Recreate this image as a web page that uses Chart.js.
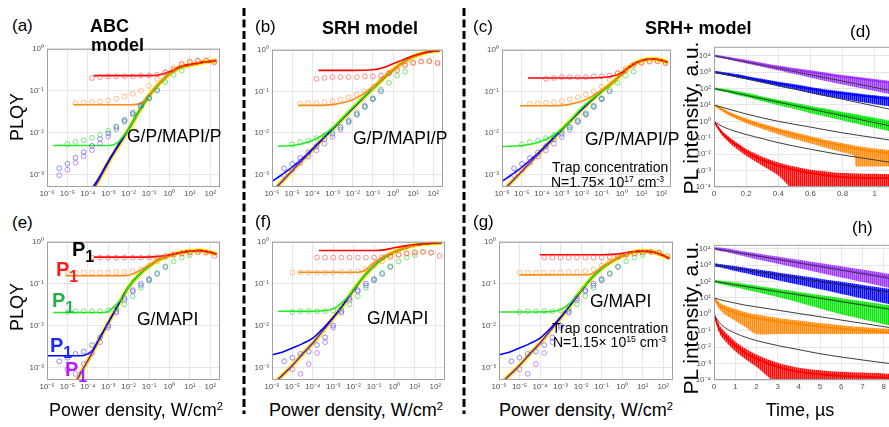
<!DOCTYPE html>
<html>
<head>
<meta charset="utf-8">
<script src="https://cdn.jsdelivr.net/npm/chart.js@4.4.1/dist/chart.umd.min.js"></script>
<style>
  html, body { margin:0; padding:0; background:#fff; }
  body { width:889px; height:427px; overflow:hidden; position:relative; font-family:"Liberation Sans", Arial, sans-serif; color:#000; }
  canvas { position:absolute; z-index:1; }
  .t { position:absolute; white-space:nowrap; line-height:1; z-index:2; }
  .b { font-weight:bold; }
  .rot { transform: translate(-50%,-50%) rotate(-90deg); }
  .ctr { transform: translateX(-50%); }
  sup { font-size:0.62em; vertical-align:0.55em; line-height:0; }
  .p1 { font-weight:bold; font-size:20px; }
  .p1 sub { font-size:0.8em; vertical-align:-0.35em; line-height:0; }
  svg { position:absolute; left:0; top:0; z-index:3; }
</style>
</head>
<body>
<svg width="889" height="427">
  <line x1="244" y1="8" x2="244" y2="414" stroke="#000" stroke-width="3" stroke-dasharray="8 3.5"/>
  <line x1="464" y1="8" x2="464" y2="414" stroke="#000" stroke-width="3" stroke-dasharray="8 3.5"/>
</svg>

<div class="t" style="left:12px;top:17px;font-size:17px">(a)</div>
<div class="t b" style="left:90px;top:17px;font-size:18px">ABC</div>
<div class="t b" style="left:91px;top:36px;font-size:18px">model</div>
<div class="t" style="left:255px;top:18px;font-size:17px">(b)</div>
<div class="t b" style="left:322px;top:19px;font-size:18px">SRH model</div>
<div class="t" style="left:473px;top:18px;font-size:17px">(c)</div>
<div class="t b" style="left:645px;top:19px;font-size:18px">SRH+ model</div>
<div class="t" style="left:850px;top:23px;font-size:17px">(d)</div>
<div class="t" style="left:12px;top:214px;font-size:17px">(e)</div>
<div class="t" style="left:255px;top:213px;font-size:17px">(f)</div>
<div class="t" style="left:473px;top:213px;font-size:17px">(g)</div>
<div class="t" style="left:852px;top:219px;font-size:17px">(h)</div>

<div class="t rot" style="left:17px;top:117px;font-size:18px">PLQY</div>
<div class="t rot" style="left:17px;top:307px;font-size:18px">PLQY</div>
<div class="t rot" style="left:690px;top:118px;font-size:21px">PL intensity, a.u.</div>
<div class="t rot" style="left:690px;top:318px;font-size:21px">PL intensity, a.u.</div>

<div class="t" style="left:127px;top:128px;font-size:17.5px">G/P/MAPI/P</div>
<div class="t" style="left:353px;top:130px;font-size:17.5px">G/P/MAPI/P</div>
<div class="t" style="left:585px;top:131px;font-size:17.5px">G/P/MAPI/P</div>
<div class="t" style="left:552px;top:160px;font-size:14px">Trap concentration</div>
<div class="t" style="left:551px;top:175px;font-size:14px">N=1.75× 10<sup>17</sup> cm<sup>-3</sup></div>

<div class="t" style="left:137px;top:311px;font-size:17.5px">G/MAPI</div>
<div class="t" style="left:367px;top:310px;font-size:17.5px">G/MAPI</div>
<div class="t" style="left:590px;top:293px;font-size:17.5px">G/MAPI</div>
<div class="t" style="left:552px;top:321px;font-size:14px">Trap concentration</div>
<div class="t" style="left:553px;top:335px;font-size:14px">N=1.15× 10<sup>15</sup> cm<sup>-3</sup></div>

<div class="t p1" style="left:72px;top:239px;color:#000">P<sub>1</sub></div>
<div class="t p1" style="left:56px;top:259px;color:#ff1a1a">P<sub>1</sub></div>
<div class="t p1" style="left:52px;top:290px;color:#22b04a">P<sub>1</sub></div>
<div class="t p1" style="left:50px;top:335px;color:#1a2cff">P<sub>1</sub></div>
<div class="t p1" style="left:65px;top:359px;color:#b41aff">P<sub>1</sub></div>

<div class="t ctr" style="left:136px;top:401px;font-size:18px">Power density, W/cm<sup>2</sup></div>
<div class="t ctr" style="left:356px;top:401px;font-size:18px">Power density, W/cm<sup>2</sup></div>
<div class="t ctr" style="left:586px;top:401px;font-size:18px">Power density, W/cm<sup>2</sup></div>
<div class="t ctr" style="left:800px;top:401px;font-size:18px">Time, µs</div>

<script>
// ---------- axis ticks ----------
const powerTicks  = [1e-6, 1e-5, 1e-4, 1e-3, 1e-2, 1e-1, 1, 10, 100];
const powerLabels = ['10⁻⁶','10⁻⁵','10⁻⁴','10⁻³','10⁻²','10⁻¹','10⁰','10¹','10²'];
const plqyTicks   = [1e-3, 1e-2, 1e-1, 1];
const plqyLabels  = ['10⁻³','10⁻²','10⁻¹','10⁰'];
const decayTicks  = [1e-4, 1e-3, 1e-2, 1e-1, 1, 10, 100, 1e3, 1e4];
const decayLabels = ['10⁻⁴','10⁻³','10⁻²','10⁻¹','10⁰','10¹','10²','10³','10⁴'];
const timeTicksD  = [0, 0.2, 0.4, 0.6, 0.8, 1, 1.2];
const timeLabelsD = ['0','0.2','0.4','0.6','0.8','1','1.2'];
const timeTicksH  = [0, 1, 2, 3, 4, 5, 6, 7, 8, 9, 10];
const timeLabelsH = ['0','1','2','3','4','5','6','7','8','9','10'];

// ---------- measured PLQY (W/cm² excitation steps) ----------
const powerGrid = [4e-6, 1e-5, 2.5e-5, 6.3e-5, 1.6e-4, 4e-4, 1e-3, 2.5e-3, 6.3e-3, 1.6e-2,
                   4e-2, 0.1, 0.25, 0.63, 1.6, 4, 10, 25, 63, 160];
// G/P/MAPI/P
const gpRed    = [null,null,null,null,0.20,0.21,0.22,0.22,0.22,0.22,0.23,0.23,0.24,0.27,0.32,0.42,0.48,0.52,0.53,0.47];
const gpOrange = [null,null,0.050,0.052,0.053,0.055,0.058,0.064,0.072,0.084,0.10,0.13,0.19,0.28,0.36,0.45,0.50,0.53,0.53,0.50];
const gpGreen  = [null,0.0053,0.0060,0.0065,0.0075,0.0088,0.011,0.014,0.019,0.028,0.042,0.065,0.11,0.16,0.24,0.30,null,null,null,null];
const gpBlue   = [0.0014,0.0018,0.0025,0.0034,0.0048,0.0070,0.0095,0.0135,0.020,0.030,0.045,0.068,0.10,null,null,null,null,null,null,null];
const gpPurple = [0.00095,0.0013,0.0019,0.0027,0.0038,0.0055,0.008,0.012,0.018,0.027,0.042,0.065,null,null,null,null,null,null,null,null];
// G/MAPI
const gmRed    = [null,null,null,null,0.42,0.42,0.42,0.42,0.42,0.42,0.42,0.42,0.43,0.46,0.50,0.53,0.56,0.58,0.55,0.46];
const gmOrange = [null,0.185,0.185,0.185,0.185,0.185,0.185,0.19,0.19,0.20,0.22,0.27,0.34,0.42,0.48,0.52,0.55,0.56,0.55,null];
const gmGreen  = [null,0.021,0.022,0.022,0.022,0.022,0.023,0.025,0.032,0.050,0.080,0.12,0.18,0.26,0.34,0.42,0.48,null,null,null];
const gmBlue   = [0.0014,0.0017,0.0021,0.0024,0.0034,0.0052,0.010,0.022,0.045,0.070,0.10,0.13,0.17,0.25,null,null,null,null,null,null];
const gmPurple = [null,0.0009,0.0007,0.0012,0.0022,0.0040,0.009,0.020,0.040,0.065,0.09,0.12,null,null,null,null,null,null,null,null];

// ---------- model curves [power, PLQY] ----------
// (a) ABC model, G/P/MAPI/P
const abcMainA   = [[1.78e-4,4.3e-4],[3.16e-4,6.8e-4],[1e-3,1.9e-3],[3.16e-3,4.8e-3],[0.01,0.0117],[0.0316,0.0316],[0.1,0.076],[0.316,0.148],[1,0.251],[3.16,0.355],[10,0.407],[31.6,0.462],[100,0.501],[200,0.525]];
const abcBlueA   = [[1.6e-4,4.6e-4],[3.16e-4,7.6e-4],[1e-3,2.05e-3],[3.16e-3,5.1e-3],[0.01,0.0122],[0.0316,0.0318],[0.1,0.076],[0.316,0.148],[1,0.251],[3.16,0.355],[10,0.407],[31.6,0.462],[100,0.501],[200,0.525]];
const abcGreenA  = [[2e-6,0.0049],[1e-3,0.0049],[2e-3,0.0052],[3.16e-3,0.006],[5e-3,0.0078],[0.01,0.012],[0.0316,0.0316],[0.1,0.076],[0.316,0.148],[1,0.251],[3.16,0.355],[10,0.407],[31.6,0.462],[100,0.501],[200,0.525]];
const abcOrangeA = [[2e-5,0.046],[0.01,0.046],[0.025,0.047],[0.05,0.055],[0.1,0.08],[0.316,0.152],[1,0.255],[3.16,0.357],[10,0.408],[31.6,0.462],[100,0.501],[200,0.525]];
const abcRedA    = [[2e-4,0.229],[0.1,0.229],[0.316,0.24],[1,0.282],[3.16,0.372],[10,0.427],[31.6,0.468],[100,0.501],[200,0.525]];
// (b) SRH model, G/P/MAPI/P
const srhMainB   = [[1.78e-6,5.1e-4],[1e-5,1.23e-3],[1e-4,3.9e-3],[1e-3,0.0123],[0.01,0.039],[0.1,0.117],[0.316,0.2],[1,0.33],[3.16,0.5],[10,0.68],[31.6,0.83],[100,0.93],[200,0.95]];
const srhBlueB   = [[1e-6,6.8e-4],[3.16e-6,1.0e-3],[1e-5,1.5e-3],[3.16e-5,2.4e-3],[1e-4,4.1e-3],[1e-3,0.0124],[0.01,0.039],[0.1,0.117],[0.316,0.2],[1,0.33],[3.16,0.5],[10,0.68],[31.6,0.83],[100,0.93],[200,0.95]];
const srhGreenB  = [[2e-6,0.0048],[1e-5,0.005],[3.16e-5,0.0055],[1e-4,0.0066],[3.16e-4,0.0087],[1e-3,0.0132],[3.16e-3,0.023],[0.01,0.041],[0.0316,0.07],[0.1,0.118],[0.316,0.2],[1,0.33],[3.16,0.5],[10,0.68],[31.6,0.83],[100,0.93],[200,0.95]];
const srhOrangeB = [[2e-5,0.046],[3.16e-4,0.046],[1e-3,0.048],[3.16e-3,0.053],[0.01,0.063],[0.0316,0.085],[0.1,0.13],[0.316,0.21],[1,0.34],[3.16,0.5],[10,0.68],[31.6,0.83],[100,0.93],[200,0.95]];
const srhRedB    = [[2e-4,0.32],[0.01,0.32],[0.1,0.33],[0.316,0.37],[1,0.46],[3.16,0.58],[10,0.72],[31.6,0.84],[100,0.93],[200,0.95]];
// (c) SRH+ model, G/P/MAPI/P
const srhpMainC   = [[1.78e-6,5.1e-4],[1e-5,1.2e-3],[1e-4,3.8e-3],[1e-3,0.012],[0.01,0.037],[0.1,0.1],[0.316,0.155],[1,0.26],[3.16,0.42],[10,0.55],[31.6,0.6],[100,0.56],[200,0.5]];
const srhpBlueC   = [[1e-6,6.8e-4],[3.16e-6,1.0e-3],[1e-5,1.5e-3],[3.16e-5,2.4e-3],[1e-4,4.0e-3],[1e-3,0.012],[0.01,0.037],[0.1,0.1],[0.316,0.155],[1,0.26],[3.16,0.42],[10,0.55],[31.6,0.6],[100,0.56],[200,0.5]];
const srhpGreenC  = [[1e-6,0.0047],[1e-5,0.005],[3.16e-5,0.0054],[1e-4,0.0064],[3.16e-4,0.0083],[1e-3,0.0125],[3.16e-3,0.022],[0.01,0.04],[0.0316,0.064],[0.1,0.1],[0.316,0.155],[1,0.26],[3.16,0.42],[10,0.55],[31.6,0.6],[100,0.56],[200,0.5]];
const srhpOrangeC = [[8e-6,0.045],[3.16e-4,0.045],[1e-3,0.046],[3.16e-3,0.05],[0.01,0.058],[0.0316,0.075],[0.1,0.108],[0.316,0.16],[1,0.26],[3.16,0.42],[10,0.55],[31.6,0.6],[100,0.56],[200,0.5]];
const srhpRedC    = [[2e-5,0.21],[0.01,0.21],[0.1,0.215],[0.316,0.23],[1,0.28],[3.16,0.42],[10,0.55],[31.6,0.6],[100,0.56],[200,0.5]];
// (e) ABC model, G/MAPI
const abcMainE   = [[2.5e-5,4.4e-4],[1e-4,1.45e-3],[3.16e-4,4.1e-3],[1e-3,0.0115],[3.16e-3,0.032],[0.01,0.083],[0.0316,0.162],[0.1,0.263],[0.316,0.38],[1,0.468],[3.16,0.55],[10,0.6],[31.6,0.617],[100,0.56],[200,0.51]];
const abcBlueE   = [[1e-6,0.0019],[5e-5,0.0019],[1e-4,0.0021],[1.78e-4,0.0026],[3.16e-4,0.0043],[1e-3,0.0117],[3.16e-3,0.032],[0.01,0.083],[0.0316,0.162],[0.1,0.263],[0.316,0.38],[1,0.468],[3.16,0.55],[10,0.6],[31.6,0.617],[100,0.56],[200,0.51]];
const abcGreenE  = [[2e-6,0.0204],[6.3e-4,0.0205],[1e-3,0.022],[1.78e-3,0.027],[3.16e-3,0.036],[5.6e-3,0.05],[0.01,0.083],[0.0316,0.162],[0.1,0.263],[0.316,0.38],[1,0.468],[3.16,0.55],[10,0.6],[31.6,0.617],[100,0.56],[200,0.51]];
const abcOrangeE = [[8e-6,0.155],[6.3e-3,0.156],[0.016,0.17],[0.0316,0.2],[0.1,0.28],[0.316,0.39],[1,0.47],[3.16,0.55],[10,0.6],[31.6,0.617],[100,0.56],[200,0.51]];
const abcRedE    = [[2e-4,0.43],[0.1,0.43],[0.316,0.45],[1,0.49],[3.16,0.55],[10,0.6],[31.6,0.617],[100,0.56],[200,0.51]];
// (f) SRH model, G/MAPI
const srhMainF   = [[1.78e-6,4.9e-4],[1e-5,1.12e-3],[3.16e-5,2.1e-3],[1e-4,3.8e-3],[3.16e-4,7.6e-3],[1e-3,0.0151],[3.16e-3,0.0316],[0.01,0.0708],[0.0316,0.148],[0.1,0.269],[0.316,0.417],[1,0.575],[3.16,0.708],[10,0.832],[31.6,0.891],[100,0.933],[200,0.935]];
const srhBlueF   = [[1e-6,0.002],[3.16e-6,0.0023],[1e-5,0.0029],[3.16e-5,0.0037],[1e-4,0.005],[3.16e-4,0.0085],[1e-3,0.0158],[3.16e-3,0.032],[0.01,0.0708],[0.0316,0.148],[0.1,0.269],[0.316,0.417],[1,0.575],[3.16,0.708],[10,0.832],[31.6,0.891],[100,0.933],[200,0.935]];
const srhGreenF  = [[2e-6,0.022],[1e-4,0.022],[3.16e-4,0.0225],[1e-3,0.025],[3.16e-3,0.038],[5.6e-3,0.05],[0.01,0.075],[0.0316,0.148],[0.1,0.269],[0.316,0.417],[1,0.575],[3.16,0.708],[10,0.832],[31.6,0.891],[100,0.933],[200,0.935]];
const srhOrangeF = [[2e-5,0.187],[0.016,0.188],[0.0316,0.2],[0.056,0.25],[0.1,0.32],[0.316,0.45],[1,0.58],[3.16,0.708],[10,0.832],[31.6,0.891],[100,0.933],[200,0.935]];
const srhRedF    = [[2e-4,0.62],[0.1,0.62],[0.316,0.64],[1,0.72],[3.16,0.8],[10,0.86],[31.6,0.9],[100,0.93],[200,0.935]];
// (g) SRH+ model, G/MAPI
const srhpMainG   = [[1.78e-6,4.9e-4],[1e-5,1.12e-3],[3.16e-5,2.1e-3],[1e-4,3.8e-3],[3.16e-4,7.6e-3],[1e-3,0.0151],[3.16e-3,0.0316],[0.01,0.068],[0.0316,0.135],[0.1,0.23],[0.316,0.34],[1,0.46],[3.16,0.56],[10,0.6],[31.6,0.57],[100,0.47],[200,0.4]];
const srhpBlueG   = [[1e-6,0.002],[3.16e-6,0.0023],[1e-5,0.0029],[3.16e-5,0.0037],[1e-4,0.005],[3.16e-4,0.0085],[1e-3,0.0158],[3.16e-3,0.032],[0.01,0.068],[0.0316,0.135],[0.1,0.23],[0.316,0.34],[1,0.46],[3.16,0.56],[10,0.6],[31.6,0.57],[100,0.47],[200,0.4]];
const srhpGreenG  = [[1e-6,0.021],[1e-4,0.021],[3.16e-4,0.0215],[1e-3,0.024],[3.16e-3,0.036],[5.6e-3,0.05],[0.01,0.07],[0.0316,0.135],[0.1,0.23],[0.316,0.34],[1,0.46],[3.16,0.56],[10,0.6],[31.6,0.57],[100,0.47],[200,0.4]];
const srhpOrangeG = [[1e-5,0.162],[0.02,0.163],[0.0316,0.17],[0.056,0.2],[0.1,0.25],[0.316,0.35],[1,0.46],[3.16,0.56],[10,0.6],[31.6,0.57],[100,0.47],[200,0.4]];
const srhpRedG    = [[1e-4,0.49],[0.1,0.49],[0.316,0.5],[1,0.53],[3.16,0.58],[10,0.6],[31.6,0.57],[100,0.47],[200,0.4]];

// ---------- PL decays, log10 of intensity ----------
// (d) G/P/MAPI/P, time in µs
const tD = [0, 0.05, 0.1, 0.2, 0.3, 0.4, 0.5, 0.6, 0.7, 0.8, 0.9, 1.0, 1.1, 1.2];
const dPurple   = [4.0, 3.91, 3.82, 3.64, 3.46, 3.29, 3.14, 3.0, 2.86, 2.72, 2.6, 2.47, 2.34, 2.2];
const dPurpleHi = [4.08, 4.0, 3.92, 3.75, 3.57, 3.4, 3.25, 3.11, 2.97, 2.83, 2.71, 2.58, 2.45, 2.32];
const dPurpleLo = [3.95, 3.84, 3.74, 3.53, 3.32, 3.1, 2.88, 2.66, 2.45, 2.25, 2.05, 1.85, 1.65, 1.45];
const dBlue     = [3.0, 2.92, 2.84, 2.66, 2.48, 2.3, 2.15, 1.98, 1.82, 1.7, 1.58, 1.47, 1.36, 1.25];
const dBlueHi   = [3.08, 3.01, 2.94, 2.77, 2.59, 2.41, 2.26, 2.1, 1.94, 1.82, 1.7, 1.59, 1.48, 1.37];
const dBlueLo   = [2.95, 2.86, 2.76, 2.56, 2.35, 2.13, 1.94, 1.72, 1.52, 1.36, 1.2, 1.05, 0.9, 0.75];
const dGreen    = [2.0, 1.9, 1.82, 1.62, 1.4, 1.2, 1.0, 0.8, 0.62, 0.42, 0.25, 0.05, -0.15, -0.33];
const dGreenHi  = [2.08, 2.0, 1.93, 1.74, 1.52, 1.32, 1.13, 0.94, 0.77, 0.57, 0.41, 0.22, 0.03, -0.15];
const dGreenLo  = [1.95, 1.83, 1.72, 1.48, 1.22, 0.98, 0.75, 0.5, 0.28, 0.05, -0.18, -0.4, -0.6, -0.8];
const tDOrange  = [0, 0.05, 0.1, 0.2, 0.3, 0.4, 0.5, 0.6, 0.7, 0.8, 0.87, 0.88, 0.9, 1.0, 1.1, 1.2];
const dOrange   = [1.0, 0.72, 0.45, 0.05, -0.28, -0.55, -0.8, -1.05, -1.3, -1.5, -1.64, -1.66, -1.7, -1.85, -1.95, -2.05];
const dOrangeHi = [1.05, 0.8, 0.55, 0.17, -0.15, -0.42, -0.66, -0.9, -1.14, -1.34, -1.47, -1.49, -1.52, -1.66, -1.76, -1.86];
const dOrangeLo = [0.95, 0.62, 0.32, -0.12, -0.46, -0.78, -1.07, -1.35, -1.63, -1.9, -2.1, -2.75, -2.75, -2.75, -2.75, -2.75];
const tDRed     = [0, 0.02, 0.05, 0.1, 0.15, 0.2, 0.3, 0.4, 0.5, 0.6, 0.7, 0.8, 1.0, 1.2];
const dRed      = [0, -0.3, -0.7, -1.15, -1.5, -1.85, -2.35, -2.7, -2.95, -3.15, -3.3, -3.4, -3.45, -3.5];
const dRedHi    = [0.02, -0.22, -0.58, -1.0, -1.35, -1.68, -2.15, -2.5, -2.75, -2.95, -3.05, -3.15, -3.2, -3.25];
const dRedLo    = [-0.05, -0.4, -0.85, -1.35, -1.75, -2.1, -2.7, -3.3, -4.2, -4.2, -4.2, -4.2, -4.2, -4.2];
const tDFit       = [0, 0.6, 1.2];
const dPurpleFit  = [4.0, 2.84, 1.68];
const dBlueFit    = [3.0, 1.76, 0.52];
const dGreenFit   = [2.0, 0.75, -0.5];
const tDOrangeFit = [0, 0.2, 0.4, 0.6, 0.8, 1.0, 1.2];
const dOrangeFit  = [1.0, 0.45, 0.0, -0.35, -0.7, -1.0, -1.3];
const tDRedFit    = [0, 0.05, 0.1, 0.2, 0.3, 0.4, 0.6, 0.8, 1.0, 1.2];
const dRedFit     = [0, -0.3, -0.5, -0.8, -1.05, -1.3, -1.7, -2.05, -2.35, -2.65];

// (h) G/MAPI, time in µs
const tH = [0, 0.25, 0.5, 1, 1.5, 2, 3, 4, 5, 6, 7, 8, 9, 10];
const hPurple   = [4.0, 3.95, 3.9, 3.79, 3.68, 3.57, 3.36, 3.15, 2.94, 2.73, 2.52, 2.32, 2.12, 1.92];
const hPurpleHi = [4.1, 4.07, 4.03, 3.93, 3.82, 3.72, 3.52, 3.32, 3.12, 2.92, 2.72, 2.52, 2.32, 2.12];
const hPurpleLo = [3.93, 3.86, 3.8, 3.65, 3.5, 3.35, 3.08, 2.8, 2.52, 2.24, 1.96, 1.68, 1.42, 1.15];
const hBlue     = [3.0, 2.95, 2.9, 2.8, 2.7, 2.6, 2.4, 2.2, 2.0, 1.8, 1.6, 1.4, 1.2, 1.0];
const hBlueHi   = [3.1, 3.06, 3.02, 2.93, 2.84, 2.74, 2.55, 2.36, 2.17, 1.98, 1.79, 1.6, 1.41, 1.22];
const hBlueLo   = [2.93, 2.86, 2.79, 2.64, 2.5, 2.35, 2.08, 1.8, 1.52, 1.24, 0.96, 0.68, 0.4, 0.12];
const hGreen    = [2.0, 1.95, 1.9, 1.8, 1.7, 1.6, 1.4, 1.2, 1.0, 0.8, 0.6, 0.4, 0.2, 0.0];
const hGreenHi  = [2.1, 2.06, 2.02, 1.93, 1.84, 1.74, 1.55, 1.36, 1.17, 0.98, 0.79, 0.6, 0.41, 0.22];
const hGreenLo  = [1.93, 1.86, 1.79, 1.64, 1.5, 1.35, 1.05, 0.72, 0.35, 0.0, -0.3, -0.6, -0.85, -1.1];
const hOrange   = [1.0, 0.55, 0.35, 0.1, -0.1, -0.25, -0.45, -0.6, -0.75, -0.88, -0.98, -1.08, -1.15, -1.2];
const hOrangeHi = [1.08, 0.72, 0.55, 0.32, 0.13, -0.02, -0.22, -0.38, -0.53, -0.66, -0.77, -0.87, -0.95, -1.0];
const hOrangeLo = [0.9, 0.3, 0.0, -0.4, -0.8, -1.2, -1.2, -1.2, -1.2, -1.2, -1.2, -1.2, -1.2, -1.2];
const hRed      = [0, -0.9, -1.3, -1.9, -2.35, -2.7, -3.2, -3.5, -3.65, -3.75, -3.8, -3.85, -3.9, -3.9];
const hRedHi    = [0.05, -0.65, -1.05, -1.65, -2.1, -2.45, -2.95, -3.25, -3.4, -3.5, -3.55, -3.6, -3.65, -3.65];
const hRedLo    = [-0.1, -1.15, -1.6, -2.25, -2.75, -3.2, -4.2, -4.2, -4.2, -4.2, -4.2, -4.2, -4.2, -4.2];
const tHFit      = [0, 5, 10];
const hPurpleFit = [4.0, 2.9, 1.8];
const hBlueFit   = [3.0, 1.98, 0.95];
const hGreenFit  = [2.0, 0.97, -0.05];
const hOrangeFit = [1.0, 0.9, 0.82, 0.68, 0.55, 0.45, 0.25, 0.05, -0.15, -0.35, -0.55, -0.75, -0.95, -1.15];
const hRedFit    = [0, -0.5, -0.8, -1.15, -1.4, -1.6, -1.9, -2.15, -2.4, -2.6, -2.78, -2.95, -3.1, -3.25];

// ---------- styling ----------
const COL = {
  red: '#ff0000', orange: '#ff8a14', green: '#22ee22', blue: '#0000ff', purple: '#7a1fd6', yellow: '#ffee00'
};
const MARK = {
  red: 'rgba(255,70,70,0.6)', orange: 'rgba(255,150,60,0.6)', green: 'rgba(40,215,40,0.6)',
  blue: 'rgba(70,70,255,0.6)', purple: 'rgba(160,70,255,0.6)'
};
const TRACE = { purple: '155,48,255', blue: '0,0,255', green: '0,230,0', orange: '255,136,0', red: '255,0,0' };
const TICK_FONT = { family: 'Liberation Sans', size: 8 };
const YW = 36, XH = 16, PT = 6, PR = 10;

const framePlugin = {
  id: 'frame',
  afterDraw(ch) {
    const a = ch.chartArea, g = ch.ctx;
    g.save();
    g.strokeStyle = '#a0a0a0'; g.lineWidth = 1;
    g.strokeRect(a.left + 0.5, a.top + 0.5, a.right - a.left - 1, a.bottom - a.top - 1);
    g.restore();
  }
};

function axis(type, min, max, ticks, labels, side) {
  return {
    type, min, max,
    afterBuildTicks: s => { s.ticks = ticks.map(v => ({ value: v })); },
    afterFit: s => { if (side === 'x') s.height = XH; else s.width = YW; },
    ticks: {
      font: TICK_FONT, color: '#505050', padding: side === 'x' ? 2 : 3,
      autoSkip: false, maxRotation: 0, minRotation: 0,
      callback: v => { const i = ticks.indexOf(v); return i < 0 ? '' : labels[i]; }
    },
    grid: { color: '#e6e6e6', drawTicks: false, lineWidth: 1 },
    border: { display: false }
  };
}

function makeChart(box, xAxis, yAxis, datasets) {
  const cv = document.createElement('canvas');
  const W = YW + box.w + PR, H = PT + box.h + XH;
  cv.width = W; cv.height = H;
  cv.style.width = W + 'px'; cv.style.height = H + 'px';
  cv.style.left = (box.x - YW) + 'px';
  cv.style.top = (box.y - PT) + 'px';
  document.body.appendChild(cv);
  return new Chart(cv, {
    type: 'line',
    data: { datasets },
    plugins: [framePlugin],
    options: {
      responsive: false, animation: false, devicePixelRatio: 1, events: [],
      layout: { padding: { top: PT, right: PR, bottom: 0, left: 0 } },
      plugins: { legend: { display: false }, tooltip: { enabled: false } },
      scales: { x: xAxis, y: yAxis }
    }
  });
}

const pairs = arr => arr.map(([x, y]) => ({ x, y }));
const fit = (arr, color, width, order) => ({
  data: pairs(arr), borderColor: color, borderWidth: width, pointRadius: 0,
  fill: false, cubicInterpolationMode: 'monotone', order
});
const marks = (vals, color) => ({
  data: powerGrid.map((p, i) => vals[i] == null ? null : { x: p, y: vals[i] }).filter(Boolean),
  showLine: false, pointRadius: 2.4, pointBorderWidth: 1, pointBorderColor: color,
  pointBackgroundColor: 'rgba(0,0,0,0)', order: 0
});

function plqyPanel(box, curves, meas) {
  const ds = [
    marks(meas.red, MARK.red), marks(meas.orange, MARK.orange), marks(meas.green, MARK.green),
    marks(meas.blue, MARK.blue), marks(meas.purple, MARK.purple),
    fit(curves.red, COL.red, 1.6, 1),
    fit(curves.orange, COL.orange, 1.6, 2),
    fit(curves.green, COL.green, 1.6, 3),
    fit(curves.blue, COL.blue, 1.6, 4),
    fit(curves.main, COL.purple, 1.6, 5),
    fit(curves.main, COL.yellow, 4.5, 6)
  ];
  makeChart(box,
    axis('logarithmic', 1e-6, 300, powerTicks, powerLabels, 'x'),
    axis('logarithmic', 5e-4, 1, plqyTicks, plqyLabels, 'y'), ds);
}

// fine vertical-stripe fill that gives the noisy traces their spiky texture
function stripes(rgb) {
  const c = document.createElement('canvas'); c.width = 2; c.height = 1;
  const g = c.getContext('2d');
  g.fillStyle = `rgba(${rgb},0.62)`; g.fillRect(0, 0, 2, 1);
  g.fillStyle = `rgba(${rgb},0.92)`; g.fillRect(0, 0, 1, 1);
  return g.createPattern(c, 'repeat');
}
const logPts = (t, v) => t.map((x, i) => ({ x, y: Math.pow(10, v[i]) }));

function trace(t, c, hi, lo, fitT, fitV, rgb) {
  return [
    { data: logPts(t, hi), borderWidth: 0, pointRadius: 0, fill: false, order: 3, tension: 0.3 },
    { data: logPts(t, lo), borderWidth: 0, pointRadius: 0, fill: '-1', backgroundColor: stripes(rgb), order: 3, tension: 0.3 },
    { data: logPts(t, c), borderColor: `rgb(${rgb})`, borderWidth: 1.8, pointRadius: 0, fill: false, order: 2, cubicInterpolationMode: 'monotone' },
    { data: logPts(fitT, fitV), borderColor: '#3c3c3c', borderWidth: 1, pointRadius: 0, fill: false, order: 1, cubicInterpolationMode: 'monotone' }
  ];
}

function decayPanel(box, xmax, ymax, tTicks, tLabels, sets) {
  const ds = sets.flat();
  makeChart(box,
    axis('linear', 0, xmax, tTicks, tLabels, 'x'),
    axis('logarithmic', 1e-4, ymax, decayTicks, decayLabels, 'y'), ds);
}

const gpMeas = { red: gpRed, orange: gpOrange, green: gpGreen, blue: gpBlue, purple: gpPurple };
const gmMeas = { red: gmRed, orange: gmOrange, green: gmGreen, blue: gmBlue, purple: gmPurple };

plqyPanel({ x: 47, y: 47, w: 173, h: 140 },
  { red: abcRedA, orange: abcOrangeA, green: abcGreenA, blue: abcBlueA, main: abcMainA }, gpMeas);
plqyPanel({ x: 272, y: 48, w: 171, h: 139 },
  { red: srhRedB, orange: srhOrangeB, green: srhGreenB, blue: srhBlueB, main: srhMainB }, gpMeas);
plqyPanel({ x: 502, y: 48, w: 169, h: 139 },
  { red: srhpRedC, orange: srhpOrangeC, green: srhpGreenC, blue: srhpBlueC, main: srhpMainC }, gpMeas);
plqyPanel({ x: 47, y: 240, w: 173, h: 140 },
  { red: abcRedE, orange: abcOrangeE, green: abcGreenE, blue: abcBlueE, main: abcMainE }, gmMeas);
plqyPanel({ x: 272, y: 240, w: 173, h: 140 },
  { red: srhRedF, orange: srhOrangeF, green: srhGreenF, blue: srhBlueF, main: srhMainF }, gmMeas);
plqyPanel({ x: 499, y: 240, w: 174, h: 140 },
  { red: srhpRedG, orange: srhpOrangeG, green: srhpGreenG, blue: srhpBlueG, main: srhpMainG }, gmMeas);

decayPanel({ x: 714, y: 45, w: 193, h: 142 }, 1.2, 3.5e4, timeTicksD, timeLabelsD, [
  trace(tD, dPurple, dPurpleHi, dPurpleLo, tDFit, dPurpleFit, TRACE.purple),
  trace(tD, dBlue, dBlueHi, dBlueLo, tDFit, dBlueFit, TRACE.blue),
  trace(tD, dGreen, dGreenHi, dGreenLo, tDFit, dGreenFit, TRACE.green),
  trace(tDOrange, dOrange, dOrangeHi, dOrangeLo, tDOrangeFit, dOrangeFit, TRACE.orange),
  trace(tDRed, dRed, dRedHi, dRedLo, tDRedFit, dRedFit, TRACE.red)
]);
decayPanel({ x: 714, y: 243, w: 212, h: 137 }, 10, 1.7e4, timeTicksH, timeLabelsH, [
  trace(tH, hPurple, hPurpleHi, hPurpleLo, tHFit, hPurpleFit, TRACE.purple),
  trace(tH, hBlue, hBlueHi, hBlueLo, tHFit, hBlueFit, TRACE.blue),
  trace(tH, hGreen, hGreenHi, hGreenLo, tHFit, hGreenFit, TRACE.green),
  trace(tH, hOrange, hOrangeHi, hOrangeLo, tH, hOrangeFit, TRACE.orange),
  trace(tH, hRed, hRedHi, hRedLo, tH, hRedFit, TRACE.red)
]);
</script>
</body>
</html>
